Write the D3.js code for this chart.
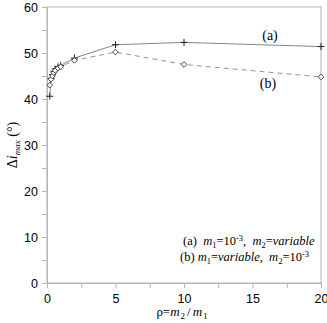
<!DOCTYPE html>
<html lang="en">
<head>
    <meta charset="UTF-8">
    <title>Δi max vs ρ</title>
    <script src="https://d3js.org/d3.v7.min.js"></script>
    <style>
        body { margin: 0; background: #fff; }
        svg { display: block; }
        .tick text { font-family: "Liberation Sans", Arial, sans-serif; font-size: 12.5px; fill: #000; }
        .serif { font-family: "Liberation Serif", "Times New Roman", serif; fill: #000; white-space: pre; }
    </style>
</head>
<body>
<script>
    // data
    let rhoA = [0.2, 0.3, 0.4, 0.5, 0.6, 0.8, 1, 2, 5, 10, 20];
    let valA = [40.6, 44.5, 45.3, 46, 46.5, 47, 47.3, 48.9, 51.8, 52.3, 51.4];
    let rhoB = [0.2, 0.3, 0.4, 0.5, 0.6, 0.8, 1, 2, 5, 10, 20];
    let valB = [43, 44.3, 45, 45.7, 46.2, 46.7, 47, 48.4, 50.2, 47.5, 44.8];
    let xTicks = [0, 5, 10, 15, 20];
    let yTicks = [0, 10, 20, 30, 40, 50, 60];

    let width = 327, height = 323;
    let margin = { top: 7, right: 6, bottom: 40, left: 47 };

    let svg = d3.select("body").append("svg")
        .attr("width", width)
        .attr("height", height);

    let x = d3.scaleLinear().domain([0, 20]).range([margin.left, width - margin.right]);
    let y = d3.scaleLinear().domain([0, 60]).range([height - margin.bottom, margin.top]);

    let axisColor = "#b4b4b4";

    // frame
    svg.append("rect")
        .attr("x", x(0)).attr("y", y(60))
        .attr("width", x(20) - x(0)).attr("height", y(0) - y(60))
        .attr("fill", "none").attr("stroke", axisColor);

    // minor ticks
    svg.append("g")
        .attr("transform", `translate(0,${y(0)})`)
        .call(d3.axisBottom(x).tickValues(d3.range(2.5, 20, 5)).tickSize(5).tickFormat(""))
        .call(g => g.select(".domain").remove())
        .call(g => g.selectAll("line").attr("stroke", axisColor));
    svg.append("g")
        .attr("transform", `translate(${x(0)},0)`)
        .call(d3.axisLeft(y).tickValues(d3.range(5, 60, 10)).tickSize(5).tickFormat(""))
        .call(g => g.select(".domain").remove())
        .call(g => g.selectAll("line").attr("stroke", axisColor));

    // major axes
    svg.append("g")
        .attr("transform", `translate(0,${y(0)})`)
        .call(d3.axisBottom(x).tickValues(xTicks).tickSize(5).tickPadding(6))
        .call(g => g.select(".domain").attr("stroke", axisColor))
        .call(g => g.selectAll("line").attr("stroke", axisColor));
    svg.append("g")
        .attr("transform", `translate(${x(0)},0)`)
        .call(d3.axisLeft(y).tickValues(yTicks).tickSize(5).tickPadding(4))
        .call(g => g.select(".domain").attr("stroke", axisColor))
        .call(g => g.selectAll("line").attr("stroke", axisColor));

    // curves
    let lineA = d3.line().x((d, i) => x(rhoA[i])).y(d => y(d));
    let lineB = d3.line().x((d, i) => x(rhoB[i])).y(d => y(d));

    svg.append("path").datum(valA)
        .attr("d", lineA).attr("fill", "none")
        .attr("stroke", "#777").attr("stroke-width", 0.9);
    svg.append("path").datum(valB)
        .attr("d", lineB).attr("fill", "none")
        .attr("stroke", "#888").attr("stroke-width", 0.9)
        .attr("stroke-dasharray", "5,4");

    // markers: plus for (a), diamond for (b)
    svg.selectAll(".mA").data(valA).enter().append("path")
        .attr("class", "mA")
        .attr("transform", (d, i) => `translate(${x(rhoA[i])},${y(d)})`)
        .attr("d", "M-3.5,0H3.5M0,-3.5V3.5")
        .attr("stroke", "#222").attr("stroke-width", 1);
    svg.selectAll(".mB").data(valB).enter().append("path")
        .attr("class", "mB")
        .attr("transform", (d, i) => `translate(${x(rhoB[i])},${y(d)})`)
        .attr("d", "M0,-2.8L2.8,0L0,2.8L-2.8,0Z")
        .attr("fill", "#fff")
        .attr("stroke", "#333").attr("stroke-width", 0.9);

    // curve labels
    svg.append("text").attr("class", "serif")
        .attr("x", 270).attr("y", 40).attr("text-anchor", "middle")
        .attr("font-size", 14).text("(a)");
    svg.append("text").attr("class", "serif")
        .attr("x", 268).attr("y", 88).attr("text-anchor", "middle")
        .attr("font-size", 14).text("(b)");

    // legend
    let leg1 = svg.append("text").attr("class", "serif")
        .attr("x", 183).attr("y", 245).attr("font-size", 12.5);
    leg1.append("tspan").text("(a)  ");
    leg1.append("tspan").attr("font-style", "italic").text("m");
    leg1.append("tspan").attr("font-size", 8.5).attr("dy", 2.5).text("1");
    leg1.append("tspan").attr("dy", -2.5).text("=10");
    leg1.append("tspan").attr("font-size", 8.5).attr("dy", -4.5).text("-3");
    leg1.append("tspan").attr("dy", 4.5).text(",  ");
    leg1.append("tspan").attr("font-style", "italic").text("m");
    leg1.append("tspan").attr("font-size", 8.5).attr("dy", 2.5).text("2");
    leg1.append("tspan").attr("dy", -2.5).text("=");
    leg1.append("tspan").attr("font-style", "italic").text("variable");

    let leg2 = svg.append("text").attr("class", "serif")
        .attr("x", 180).attr("y", 261).attr("font-size", 12.5);
    leg2.append("tspan").text("(b) ");
    leg2.append("tspan").attr("font-style", "italic").text("m");
    leg2.append("tspan").attr("font-size", 8.5).attr("dy", 2.5).text("1");
    leg2.append("tspan").attr("dy", -2.5).text("=");
    leg2.append("tspan").attr("font-style", "italic").text("variable");
    leg2.append("tspan").text(",  ");
    leg2.append("tspan").attr("font-style", "italic").text("m");
    leg2.append("tspan").attr("font-size", 8.5).attr("dy", 2.5).text("2");
    leg2.append("tspan").attr("dy", -2.5).text("=10");
    leg2.append("tspan").attr("font-size", 8.5).attr("dy", -4.5).text("-3");

    // axis titles
    let xt = svg.append("text").attr("class", "serif")
        .attr("x", x(10) - 2).attr("y", 316).attr("text-anchor", "middle")
        .attr("font-size", 13);
    xt.append("tspan").text("ρ=");
    xt.append("tspan").attr("font-style", "italic").text("m");
    xt.append("tspan").attr("font-size", 9).attr("dy", 3).attr("dx", 1).text("2");
    xt.append("tspan").attr("dy", -3).attr("dx", 2).text("/");
    xt.append("tspan").attr("font-style", "italic").attr("dx", 2).text("m");
    xt.append("tspan").attr("font-size", 9).attr("dy", 3).attr("dx", 1).text("1");

    let yt = svg.append("text").attr("class", "serif")
        .attr("transform", `translate(17,${y(30)}) rotate(-90)`)
        .attr("text-anchor", "middle").attr("font-size", 14);
    yt.append("tspan").text("Δ");
    yt.append("tspan").attr("font-style", "italic").text("i");
    yt.append("tspan").attr("font-size", 9).attr("font-style", "italic").attr("dy", 3).text("max");
    yt.append("tspan").attr("dy", -3).text(" (°)");
</script>
</body>
</html>
